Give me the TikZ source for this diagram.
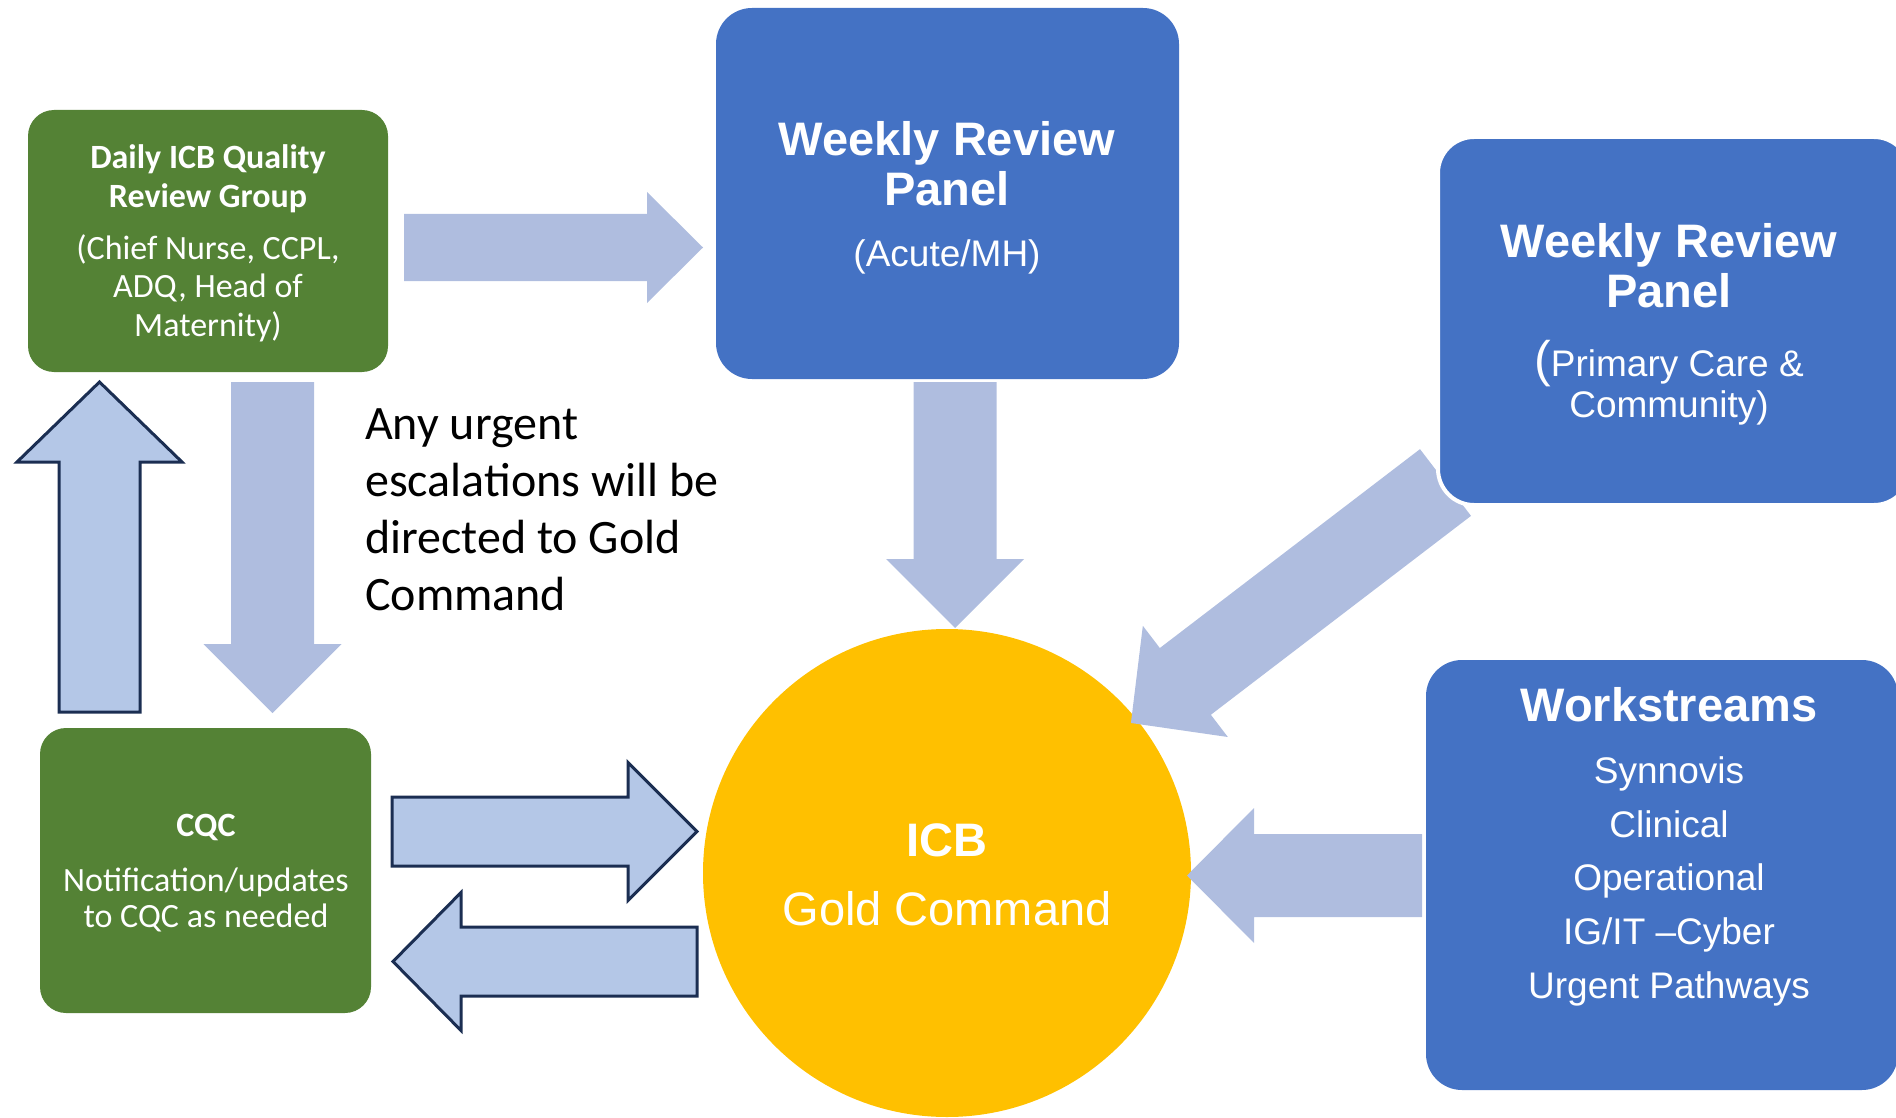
\documentclass[tikz,border=0pt]{standalone}
\usepackage{fontspec}
\setmainfont{Liberation Sans}
\newfontfamily\calibri{Carlito}
\usetikzlibrary{calc}

\definecolor{boxgreen}{HTML}{548235}
\definecolor{boxblue}{HTML}{4472C4}
\definecolor{gold}{HTML}{FFC000}
\definecolor{flowfill}{HTML}{AFBDDF}
\definecolor{linkfill}{HTML}{B4C7E7}
\definecolor{linkline}{HTML}{1B2E52}

\tikzset{
  greenbox/.style={rectangle, rounded corners=26pt, fill=boxgreen, inner sep=0pt},
  bluebox/.style={rectangle, rounded corners=36pt, fill=boxblue, inner sep=0pt},
  flow/.style={fill=flowfill, draw=none},
  link/.style={fill=linkfill, draw=linkline, line width=3pt, line join=miter},
  txt/.style={anchor=base, inner sep=0pt, text=white},
  bigbold/.style={font=\bfseries\fontsize{47pt}{56pt}\selectfont},
  bigreg/.style={font=\fontsize{47pt}{56pt}\selectfont},
  midreg/.style={font=\fontsize{37pt}{44pt}\selectfont},
  calbold/.style={font=\calibri\bfseries\fontsize{34pt}{40pt}\selectfont},
  calreg/.style={font=\calibri\fontsize{34pt}{40pt}\selectfont},
  note/.style={anchor=base west, inner sep=0pt, text=black, font=\calibri\fontsize{48pt}{57pt}\selectfont},
  % block arrow: length, shaft half width, head half width, head length
  pics/blockarrow/.style n args={4}{code={
    \path[pic actions] (0,-#2) -- ({#1-#4},-#2) -- ({#1-#4},-#3) -- (#1,0)
      -- ({#1-#4},#3) -- ({#1-#4},#2) -- (0,#2) -- cycle;}},
}

\begin{document}
\begin{tikzpicture}[x=1pt,y=-1pt]
\useasboundingbox (0,0) rectangle (1896,1118);
\clip (0,0) rectangle (1896,1118);

% boxes
\node[greenbox, minimum width=360pt, minimum height=262pt] (daily) at (208,241) {};
\node[greenbox, minimum width=331pt, minimum height=285pt] (cqc) at (205.5,870.5) {};
\node[bluebox, minimum width=463pt, minimum height=371pt] (acute) at (947.5,193.5) {};
\node[bluebox, minimum width=472pt, minimum height=430pt] (work) at (1662,875) {};
\node[circle, fill=gold, minimum size=488pt, inner sep=0pt] (icb) at (947,873) {};

% block arrows
\pic[flow] at (404,247.5) {blockarrow={299}{33.5}{55.5}{56}};
\pic[flow, rotate=-90] at (955,382) {blockarrow={246}{41.5}{69}{69}};
\pic[flow, rotate=-90] at (272.5,382) {blockarrow={331}{41.5}{69}{69}};
\pic[link, rotate=90] at (99.5,712) {blockarrow={330}{40.5}{82.5}{80}};
\pic[link] at (392,831.5) {blockarrow={305}{34.5}{69}{69}};
\pic[link, rotate=180] at (697,961.5) {blockarrow={304}{34.5}{69}{68}};
\pic[flow, rotate=180] at (1422,875.5) {blockarrow={235}{41.5}{67.5}{67}};
\pic[flow, rotate=-142.6] at (1445.5,482.5) {blockarrow={396}{42}{70}{68.5}};

% primary care panel sits over the diagonal arrow
\node[bluebox, draw=white, line width=4pt, minimum width=472pt, minimum height=368pt] (primary) at (1674,321) {};

% daily group text
\node[txt, calbold] (d1) at (208,169) {Daily ICB Quality};
\node[txt, calbold] (d2) at (208,208) {Review Group};
\node[txt, calreg] (d3) at (208,260) {(Chief Nurse, CCPL,};
\node[txt, calreg] (d4) at (208,298) {ADQ, Head of};
\node[txt, calreg] (d5) at (208,336) {Maternity)};

% acute panel text
\node[txt, bigbold] (a1) at (947,156) {Weekly Review};
\node[txt, bigbold] (a2) at (947,206) {Panel};
\node[txt, midreg] (a3) at (947,266) {(Acute/MH)};

% primary care panel text
\node[txt, bigbold] (p1) at (1669,258) {Weekly Review};
\node[txt, bigbold] (p2) at (1669,307) {Panel};
\node[txt, midreg] (p3) at (1669,376) {{\fontsize{50pt}{50pt}\selectfont(}Primary Care \&};
\node[txt, midreg] (p4) at (1669,417) {Community)};

% workstreams text
\node[txt, bigbold] (w0) at (1669,721) {Workstreams};
\node[txt, midreg] (w1) at (1669,783) {Synnovis};
\node[txt, midreg] (w2) at (1669,837) {Clinical};
\node[txt, midreg] (w3) at (1669,890) {Operational};
\node[txt, midreg] (w4) at (1669,944) {IG/IT –Cyber};
\node[txt, midreg] (w5) at (1669,998) {Urgent Pathways};

% CQC text
\node[txt, calbold] (c1) at (206,836) {CQC};
\node[txt, calreg] (c2) at (206,891) {Notification/updates};
\node[txt, calreg] (c3) at (206,927) {to CQC as needed};

% gold command text
\node[txt, bigbold] (g1) at (947,856) {ICB};
\node[txt, bigreg] (g2) at (947,925) {Gold Command};

% escalation note
\node[note] (n1) at (365,439) {Any urgent};
\node[note] (n2) at (365,496) {escalations will be};
\node[note] (n3) at (365,553) {directed to Gold};
\node[note] (n4) at (365,610) {Command};
\end{tikzpicture}
\end{document}
